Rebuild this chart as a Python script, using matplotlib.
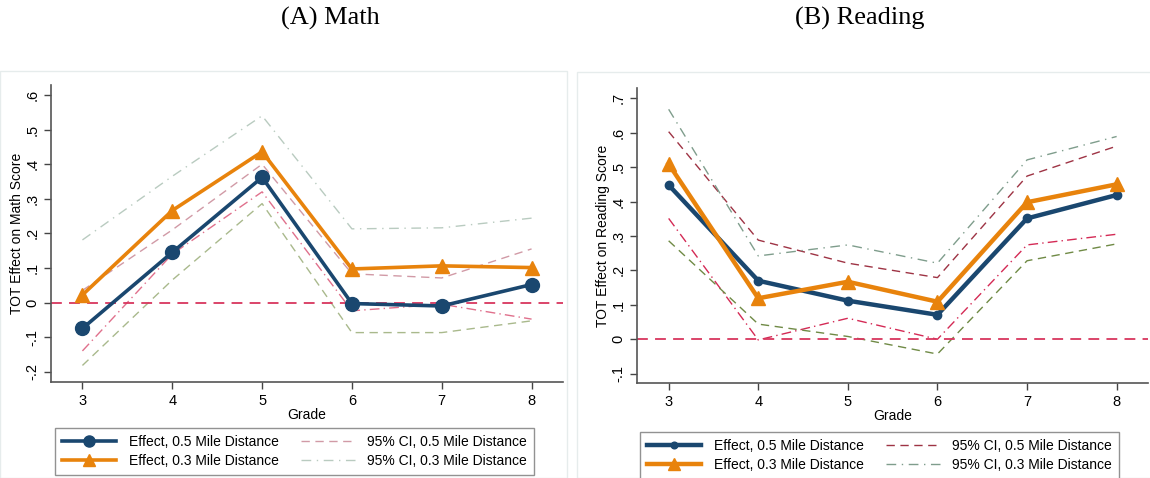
import numpy as np
import matplotlib
matplotlib.use("Agg")
import matplotlib.pyplot as plt
from matplotlib.patches import Rectangle

# values
grades = [3, 4, 5, 6, 7, 8]

math_eff05 = [-0.075, 0.145, 0.362, -0.003, -0.010, 0.052]
math_eff03 = [0.022, 0.266, 0.436, 0.097, 0.106, 0.101]
math_ci05_hi = [0.035, 0.210, 0.400, 0.083, 0.071, 0.155]
math_ci05_lo = [-0.140, 0.140, 0.320, -0.024, -0.005, -0.048]
math_ci03_hi = [0.181, 0.365, 0.540, 0.213, 0.216, 0.244]
math_ci03_lo = [-0.182, 0.065, 0.286, -0.087, -0.087, -0.053]

read_eff05 = [0.448, 0.170, 0.112, 0.071, 0.351, 0.419]
read_eff03 = [0.509, 0.119, 0.167, 0.109, 0.398, 0.450]
read_ci05_hi = [0.603, 0.288, 0.221, 0.179, 0.474, 0.561]
read_ci05_lo = [0.351, -0.002, 0.061, 0.000, 0.274, 0.305]
read_ci03_hi = [0.668, 0.242, 0.274, 0.221, 0.521, 0.589]
read_ci03_lo = [0.286, 0.044, 0.008, -0.043, 0.228, 0.277]

math_yticks = [-0.2, -0.1, 0, 0.1, 0.2, 0.3, 0.4, 0.5, 0.6]
math_ylabels = ["-.2", "-.1", "0", ".1", ".2", ".3", ".4", ".5", ".6"]
read_yticks = [-0.1, 0, 0.1, 0.2, 0.3, 0.4, 0.5, 0.6, 0.7]
read_ylabels = ["-.1", "0", ".1", ".2", ".3", ".4", ".5", ".6", ".7"]

labels = ["Effect, 0.5 Mile Distance", "Effect, 0.3 Mile Distance",
          "95% CI, 0.5 Mile Distance", "95% CI, 0.3 Mile Distance"]

plt.rcParams["font.family"] = ["Liberation Sans", "DejaVu Sans"]

W, H = 1150, 478
fig = plt.figure(figsize=(W / 100, H / 100), dpi=100)

def px(x0, y0, x1, y1):
    # pixel box -> figure fraction [left, bottom, width, height]
    return [x0 / W, 1 - y1 / H, (x1 - x0) / W, (y1 - y0) / H]

# faint graph-region frames
fig.patches.append(Rectangle((0, 0), 567 / W, 1 - 71 / H, transform=fig.transFigure,
                             fill=False, ec="#e6ecec", lw=1))
fig.patches.append(Rectangle((577 / W, 0), 1, 1 - 72 / H, transform=fig.transFigure,
                             fill=False, ec="#e6ecec", lw=1))

blue = "#1a476f"
orange = "#e8830c"


def panel(ax, eff05, eff03, ci05_hi, ci05_lo, ci03_hi, ci03_lo,
          yticks, ylabels, ylim, ylabel, light, ms05, lw_eff):
    if light:
        c_hi05, c_lo05, c_hi03, c_lo03 = "#d19aa6", "#e0708c", "#b9cbc0", "#a9b98c"
    else:
        c_hi05, c_lo05, c_hi03, c_lo03 = "#9e3344", "#d42a55", "#7f9d8c", "#6f8a45"
    lw_ci = 1.0
    h_hi05, = ax.plot(grades, ci05_hi, color=c_hi05, lw=lw_ci, dashes=(6, 4))
    ax.plot(grades, ci05_lo, color=c_lo05, lw=lw_ci, dashes=(7, 3, 1, 3))
    h_hi03, = ax.plot(grades, ci03_hi, color=c_hi03, lw=lw_ci, dashes=(7, 4, 1, 4))
    ax.plot(grades, ci03_lo, color=c_lo03, lw=lw_ci, dashes=(6, 4))
    ax.axhline(0, color="#d8365e", lw=1.3, dashes=(6, 4))
    h05, = ax.plot(grades, eff05, color=blue, lw=lw_eff, marker="o", ms=ms05)
    h03, = ax.plot(grades, eff03, color=orange, lw=lw_eff, marker="^", ms=10)

    ax.set_xlim(2.65, 8.35)
    ax.set_ylim(*ylim)
    ax.set_xticks(grades)
    ax.set_yticks(yticks)
    ax.set_yticklabels(ylabels, rotation=90, va="center")
    ax.set_xlabel("Grade", fontsize=10, labelpad=0)
    ax.set_ylabel(ylabel, fontsize=10, labelpad=1)
    ax.tick_params(labelsize=10.5, length=5, color="#444444", width=1)
    for s in ["top", "right"]:
        ax.spines[s].set_visible(False)
    for s in ["left", "bottom"]:
        ax.spines[s].set_color("#555555")
        ax.spines[s].set_linewidth(1.2)
    return [h05, h03, h_hi05, h_hi03]


ax1 = fig.add_axes(px(51, 85, 563, 381.7))
hs1 = panel(ax1, math_eff05, math_eff03, math_ci05_hi, math_ci05_lo, math_ci03_hi,
            math_ci03_lo, math_yticks, math_ylabels, (-0.229, 0.629),
            "TOT Effect on Math Score", True, 10, 2.6)

ax2 = fig.add_axes(px(637.3, 88.3, 1148, 383.3))
hs2 = panel(ax2, read_eff05, read_eff03, read_ci05_hi, read_ci05_lo, read_ci03_hi,
            read_ci03_lo, read_yticks, read_ylabels, (-0.128, 0.729),
            "TOT Effect on Reading Score", False, 6, 3.2)

leg_kw = dict(ncol=2, fontsize=10, frameon=True, fancybox=False, handlelength=3.9,
              handletextpad=0.9, columnspacing=1.6, labelspacing=0.35,
              borderpad=0.5, loc="upper left", borderaxespad=0, markerscale=0.8)
l1 = fig.legend(hs1, labels, bbox_to_anchor=(55 / W, 1 - 428 / H), **leg_kw)
l2 = fig.legend(hs2, labels, bbox_to_anchor=(640 / W, 1 - 432 / H), **leg_kw)
for lg in (l1, l2):
    lg.get_frame().set_edgecolor("#777777")
    lg.get_frame().set_linewidth(1.0)

fig.text(330 / W, 1 - 18 / H, "(A) Math", family="Liberation Serif", fontsize=19,
         ha="center", va="center")
fig.text(860 / W, 1 - 18 / H, "(B) Reading", family="Liberation Serif", fontsize=19,
         ha="center", va="center")

fig.savefig("out.png", dpi=100)
